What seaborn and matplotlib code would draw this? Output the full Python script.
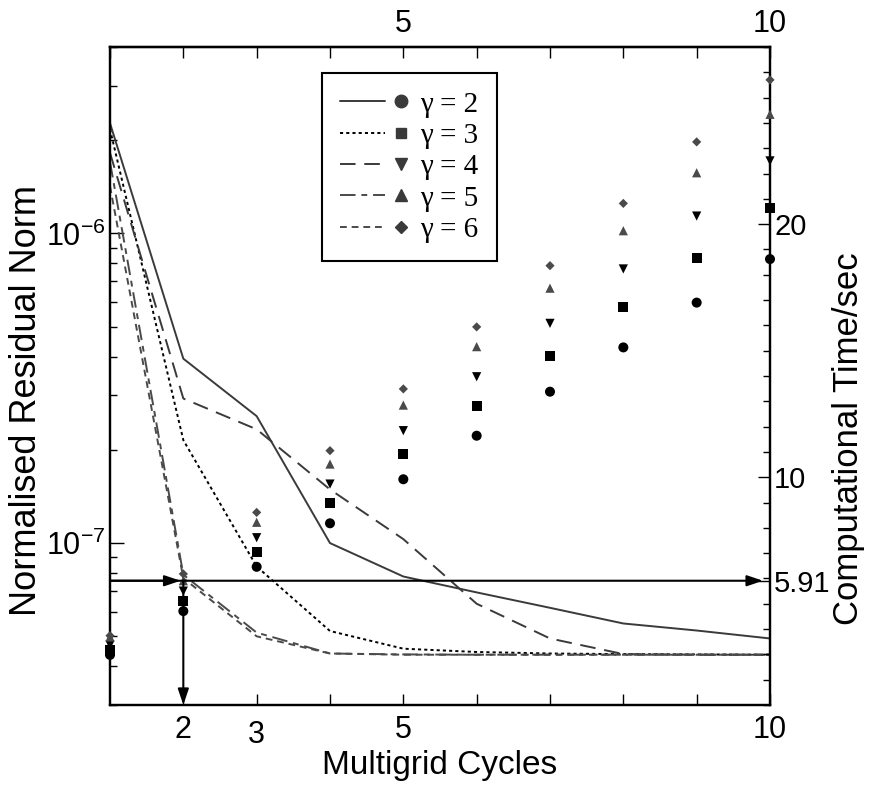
import numpy as np
import pandas as pd
import seaborn as sns
import matplotlib.pyplot as plt
from matplotlib.lines import Line2D
from matplotlib.legend_handler import HandlerBase
from matplotlib.ticker import MultipleLocator, NullFormatter

cycles = list(range(1, 11))
gammas = ['2', '3', '4', '5', '6']

# normalised residual norm (left axis, log scale)
res_g2 = [2.27e-6, 3.94e-7, 2.57e-7, 1.0e-7, 7.8e-8, 6.93e-8, 6.18e-8, 5.5e-8, 5.22e-8, 4.92e-8]
res_g3 = [2.17e-6, 2.15e-7, 8.4e-8, 5.2e-8, 4.56e-8, 4.45e-8, 4.4e-8, 4.38e-8, 4.37e-8, 4.36e-8]
res_g4 = [1.82e-6, 2.93e-7, 2.33e-7, 1.49e-7, 1.03e-7, 6.37e-8, 4.92e-8, 4.38e-8, 4.36e-8, 4.36e-8]
res_g5 = [1.70e-6, 7.9e-8, 5.14e-8, 4.4e-8, 4.37e-8, 4.36e-8, 4.36e-8, 4.36e-8, 4.36e-8, 4.36e-8]
res_g6 = [1.42e-6, 7.7e-8, 5.0e-8, 4.4e-8, 4.36e-8, 4.36e-8, 4.36e-8, 4.36e-8, 4.36e-8, 4.36e-8]

# computational time in seconds (right axis)
time_g2 = [2.98, 4.71, 6.46, 8.18, 9.92, 11.64, 13.38, 15.13, 16.90, 18.62]
time_g3 = [3.18, 5.12, 7.06, 9.00, 10.92, 12.83, 14.80, 16.74, 18.67, 20.63]
time_g4 = [3.37, 5.50, 7.61, 9.73, 11.84, 13.97, 16.08, 18.23, 20.32, 22.50]
time_g5 = [3.69, 5.91, 8.22, 10.52, 12.85, 15.16, 17.47, 19.74, 22.03, 24.34]
time_g6 = [3.74, 6.18, 8.61, 11.05, 13.49, 15.94, 18.36, 20.82, 23.25, 25.70]

mark_cycle = 2
mark_time = 5.91

line_colors = {'2': '#3a3a3a', '3': '#000000', '4': '#3a3a3a', '5': '#4a4a4a', '6': '#4a4a4a'}
line_dashes = {'2': '', '3': (1.6, 1.6), '4': (8, 4.5), '5': (8, 3, 3, 3), '6': (3.5, 2.5)}
marker_shapes = {'2': 'o', '3': 's', '4': 'v', '5': '^', '6': 'D'}
marker_colors = {'2': '#000000', '3': '#000000', '4': '#000000', '5': '#4a4a4a', '6': '#4a4a4a'}
marker_sizes = {'2': 52, '3': 52, '4': 44, '5': 44, '6': 22}

res_df = pd.DataFrame({
    'cycle': cycles * 5,
    'residual': res_g2 + res_g3 + res_g4 + res_g5 + res_g6,
    'gamma': np.repeat(gammas, len(cycles)),
})
time_df = pd.DataFrame({
    'cycle': cycles * 5,
    'time': time_g2 + time_g3 + time_g4 + time_g5 + time_g6,
    'gamma': np.repeat(gammas, len(cycles)),
})

sns.set_style('ticks', rc={'axes.edgecolor': 'black', 'text.color': 'black',
                           'xtick.color': 'black', 'ytick.color': 'black',
                           'axes.labelcolor': 'black'})
plt.rcParams['font.family'] = ['Liberation Sans', 'DejaVu Sans']
plt.rcParams['mathtext.fontset'] = 'custom'
plt.rcParams['mathtext.rm'] = 'Liberation Sans'
plt.rcParams['mathtext.default'] = 'regular'

fig = plt.figure(figsize=(8.69, 7.85), dpi=100)
ax = fig.add_axes([0.12658, 0.10191, 0.75949, 0.83822])

sns.lineplot(data=res_df, x='cycle', y='residual', hue='gamma', style='gamma',
             palette=line_colors, dashes=line_dashes, linewidth=1.4,
             legend=False, ax=ax)
ax.set_yscale('log')
ax.set_ylim(3e-8, 4e-6)
ax.set_xlim(1, 10)

ax2 = ax.twinx()
sns.scatterplot(data=time_df, x='cycle', y='time', hue='gamma', style='gamma',
                size='gamma', palette=marker_colors, markers=marker_shapes,
                sizes=marker_sizes, linewidth=0, legend=False, clip_on=False,
                zorder=3, ax=ax2)
ax2.set_ylim(1, 27)
ax2.set_xlim(1, 10)

tick_fs = 22

# ticks
ax.set_xticks(range(2, 11))
ax.set_xticklabels(['2', '3', '', '5', '', '', '', '', '10'])
ax.xaxis.get_ticklabels()[1].set_y(-0.008)
ax.yaxis.set_minor_formatter(NullFormatter())
ax.tick_params(axis='x', which='major', direction='in', length=8, width=1,
               pad=7, labelsize=tick_fs, top=False)
ax.tick_params(axis='y', which='major', direction='in', length=10, width=1,
               pad=3, labelsize=tick_fs, right=False)
ax.tick_params(axis='y', which='minor', direction='in', length=5, width=1, right=False)

ax2.set_yticks([mark_time, 10, 20])
ax2.set_yticklabels(['5.91', '10', '20'])
ax2.yaxis.set_minor_locator(MultipleLocator(1))
ax2.tick_params(axis='y', which='major', direction='in', length=9, width=1,
                pad=3, labelsize=21)
ax2.tick_params(axis='y', which='minor', direction='in', length=5, width=1)

top = ax.secondary_xaxis('top')
top.set_xticks(cycles)
top.set_xticklabels(['', '', '', '', '5', '', '', '', '', '10'])
top.tick_params(direction='in', length=8, width=1, pad=6, labelsize=tick_fs)

for a in (ax, ax2):
    for sp in a.spines.values():
        sp.set_linewidth(1.6)
        sp.set_color('black')
for sp in top.spines.values():
    sp.set_linewidth(1.6)

# labels
ax.set_xlabel('Multigrid Cycles', fontsize=24, labelpad=0)
ax.set_ylabel('Normalised Residual Norm', fontsize=26)
ax.yaxis.set_label_coords(-0.1, 0.4635)
ax2.set_ylabel('Computational Time/sec', fontsize=25)
ax2.yaxis.set_label_coords(1.094, 0.405)

# arrows
ybot = ax2.get_ylim()[0]
arrow_kw = dict(arrowstyle='-|>,head_length=0.8,head_width=0.27', color='black',
                lw=1.5, shrinkA=0, mutation_scale=12)
ax2.annotate('', xy=(cycles[-1], mark_time), xytext=(cycles[0], mark_time),
             arrowprops=dict(arrow_kw, shrinkB=5), annotation_clip=False)
ax2.annotate('', xy=(mark_cycle, mark_time), xytext=(cycles[0], mark_time),
             arrowprops=dict(arrow_kw, shrinkB=2), annotation_clip=False)
ax2.annotate('', xy=(mark_cycle, ybot), xytext=(mark_cycle, mark_time),
             arrowprops=dict(arrow_kw, shrinkB=0), annotation_clip=False)


class LineMarkerHandler(HandlerBase):
    def create_artists(self, legend, orig_handle, xdescent, ydescent, width,
                       height, fontsize, trans):
        y = height / 2 - ydescent
        seg = Line2D([-xdescent, -xdescent + 0.66 * width], [y, y])
        seg.update_from(orig_handle)
        seg.set_marker('None')
        dot = Line2D([-xdescent + 0.89 * width], [y])
        dot.update_from(orig_handle)
        dot.set_linestyle('None')
        seg.set_transform(trans)
        dot.set_transform(trans)
        return [seg, dot]


legend_ms = {'2': 9, '3': 7, '4': 8, '5': 8, '6': 6.5}
handles = []
for g in gammas:
    ls = '-' if line_dashes[g] == '' else (0, line_dashes[g])
    handles.append(Line2D([], [], color=line_colors[g], lw=1.4, linestyle=ls,
                          marker=marker_shapes[g], markersize=legend_ms[g],
                          markerfacecolor='#3a3a3a', markeredgecolor='#3a3a3a'))
labels = ['\u03b3 = ' + g for g in gammas]
leg = ax2.legend(handles, labels, handler_map={Line2D: LineMarkerHandler()},
                 loc='upper left', bbox_to_anchor=(0.3705, 0.907),
                 bbox_transform=fig.transFigure, frameon=True, fancybox=False,
                 edgecolor='black', framealpha=1, borderaxespad=0,
                 handlelength=2.35, handletextpad=0.4, labelspacing=0.17,
                 borderpad=0.62, prop={'family': ['Liberation Serif'], 'size': 21})
leg.get_frame().set_linewidth(1.5)

fig.savefig('out.png', dpi=100)
